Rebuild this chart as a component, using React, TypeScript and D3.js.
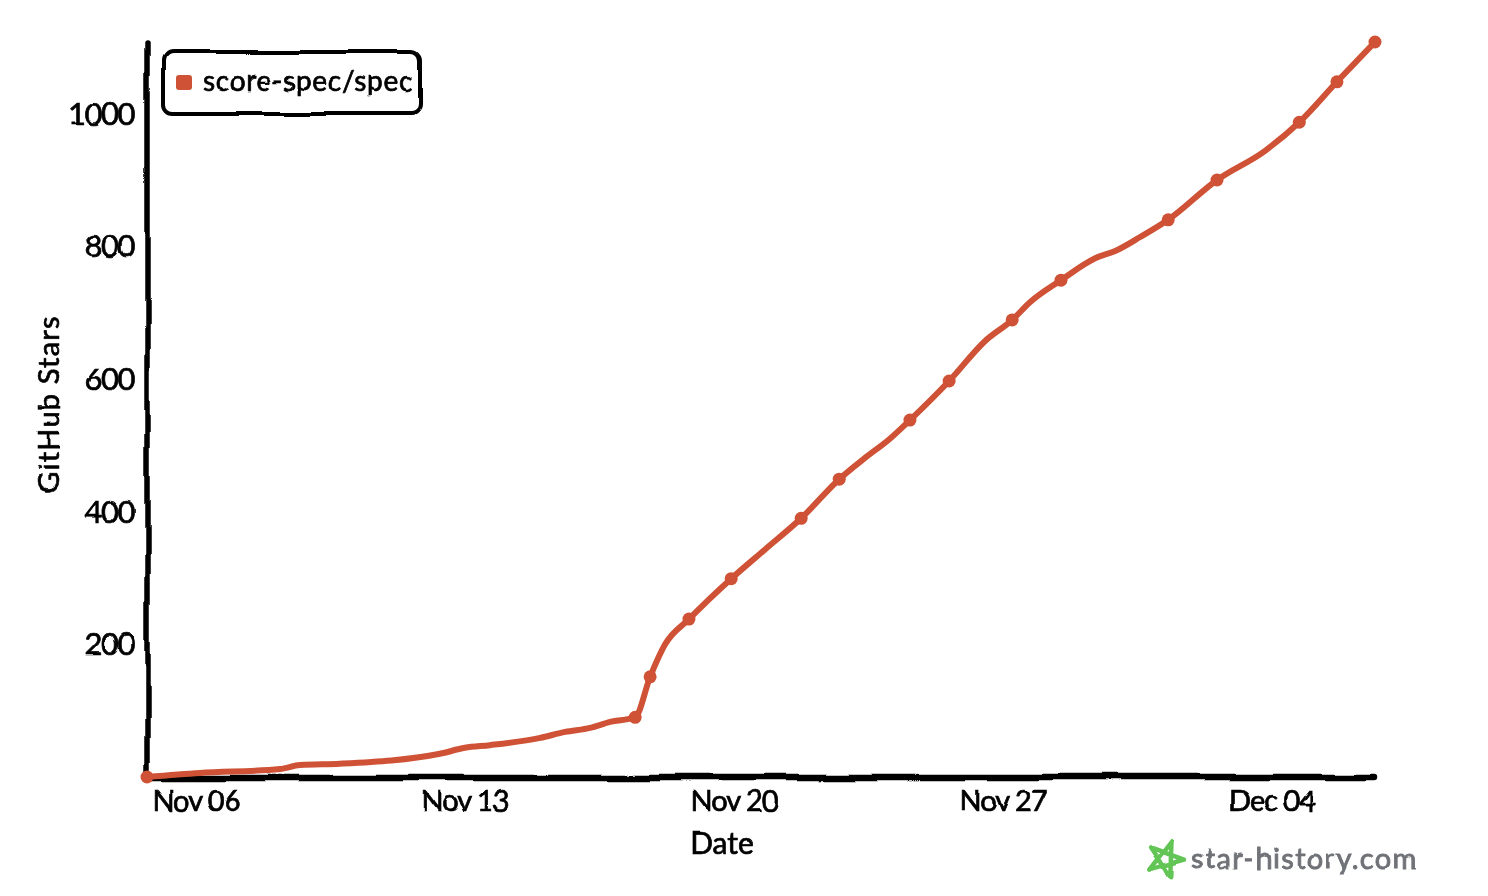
import React from "react";
import * as d3 from "d3";

const dayOffsets = [-1.3,0.08,2.16,2.68,3.72,6.32,6.97,7.62,8.93,9.58,10.23,10.75,11.4,11.79,12.18,12.8,13.9,14.78,15.72,16.71,17.38,18.03,18.55,19.57,20.5,21.21,21.68,22.48,23.37,23.89,24.54,25.27,26.54,27.79,28.68,29.66,30.65];
const stars = [0,6,12,18,20,35,44,48,59,68,74,83,90,151,200,238,299,343,390,449,481,510,538,597,657,689,716,749,782,793,814,840,900,944,987,1048,1108];
const markerDays = [-1.3,11.4,11.79,12.8,13.9,15.72,16.71,18.55,19.57,21.21,22.48,25.27,26.54,28.68,29.66,30.65];
const markerStars = [0,90,151,238,299,390,449,538,597,689,749,840,900,987,1048,1108];
const xTickDays = [0,7,14,21,28];
const xTickLabels = ["Nov 06","Nov 13","Nov 20","Nov 27","Dec 04"];
const yTicks = [200,400,600,800,1000];
const seriesName = "score-spec/spec";

const RED = "#cf5236";
const FONT = "Lato, sans-serif";

const x = d3.scaleLinear().domain([-1.3, 30.65]).range([147, 1375]);
const y = d3.scaleLinear().domain([0, 1108]).range([777, 42]);
const linePath = d3.line<number>().x((_, i) => x(dayOffsets[i])).y((d) => y(d)).curve(d3.curveMonotoneX)(stars) || "";

const starPts = d3.range(5).map((i) => {
  const a = -Math.PI / 2 + 0.35 + (i * 2 * 2 * Math.PI) / 5;
  return [1165 + 19 * Math.cos(a), 859 + 19 * Math.sin(a)] as [number, number];
});
const starPath = d3.line().curve(d3.curveLinearClosed)(starPts) || "";

const bold = { stroke: "currentColor", strokeWidth: 0.7 };

export default function App() {
  return (
    <svg width={1488} height={896} viewBox="0 0 1488 896" style={{ position: "absolute", left: 0, top: 0, background: "#fff", color: "#000" }} fontFamily={FONT}>
      <defs>
        <filter id="wob" filterUnits="userSpaceOnUse" x="0" y="0" width="1488" height="896">
          <feTurbulence type="fractalNoise" baseFrequency="0.012" numOctaves="2" seed="4" result="n" />
          <feDisplacementMap in="SourceGraphic" in2="n" scale="8" xChannelSelector="R" yChannelSelector="G" />
          <feGaussianBlur stdDeviation="0.4" />
        </filter>
        <filter id="txt" filterUnits="userSpaceOnUse" x="0" y="0" width="1488" height="896">
          <feTurbulence type="fractalNoise" baseFrequency="0.05" numOctaves="1" seed="7" result="n" />
          <feDisplacementMap in="SourceGraphic" in2="n" scale="3" xChannelSelector="R" yChannelSelector="G" />
          <feGaussianBlur stdDeviation="0.3" />
        </filter>
      </defs>
      <g filter="url(#wob)">
        <line x1={147} y1={44} x2={147} y2={778} stroke="#000" strokeWidth={5.5} strokeLinecap="round" />
        <line x1={146} y1={778} x2={1375} y2={778} stroke="#000" strokeWidth={6.5} strokeLinecap="round" />
        <rect x={163} y={52} width={257} height={62} rx={9} fill="#fff" stroke="#000" strokeWidth={4} />
      </g>
      <path d={linePath} fill="none" stroke={RED} strokeWidth={6} strokeLinejoin="round" strokeLinecap="round" />
      {markerDays.map((d, i) => (
        <circle key={i} cx={x(d)} cy={y(markerStars[i])} r={6.5} fill={RED} />
      ))}
      <rect x={176} y={75} width={16} height={15} rx={3} fill={RED} />
      <g filter="url(#txt)" fill="#000">
        <text x={203} y={91} fontSize={28} letterSpacing={0.7} {...bold}>{seriesName}</text>
        {yTicks.map((t) => (
          <text key={t} x={134} y={y(t) + 11} textAnchor="end" fontSize={31} letterSpacing={-1.5} {...bold}>{t}</text>
        ))}
        {xTickDays.map((d, i) => (
          <text key={d} x={x(d) - 1} y={811} textAnchor="middle" fontSize={29} letterSpacing={-1} {...bold}>{xTickLabels[i]}</text>
        ))}
        <text x={722} y={854} textAnchor="middle" fontSize={30} {...bold}>Date</text>
        <text transform="translate(59,404) rotate(-90)" textAnchor="middle" fontSize={29} letterSpacing={1.2} {...bold}>GitHub Stars</text>
        <text x={1191} y={869} fontSize={29} letterSpacing={1.3} fill="#6f7277" stroke="#6f7277" strokeWidth={0.9}>star-history.com</text>
      </g>
      <path d={starPath} fill="none" stroke="#62c554" strokeWidth={4.5} strokeLinejoin="round" filter="url(#txt)" />
    </svg>
  );
}
